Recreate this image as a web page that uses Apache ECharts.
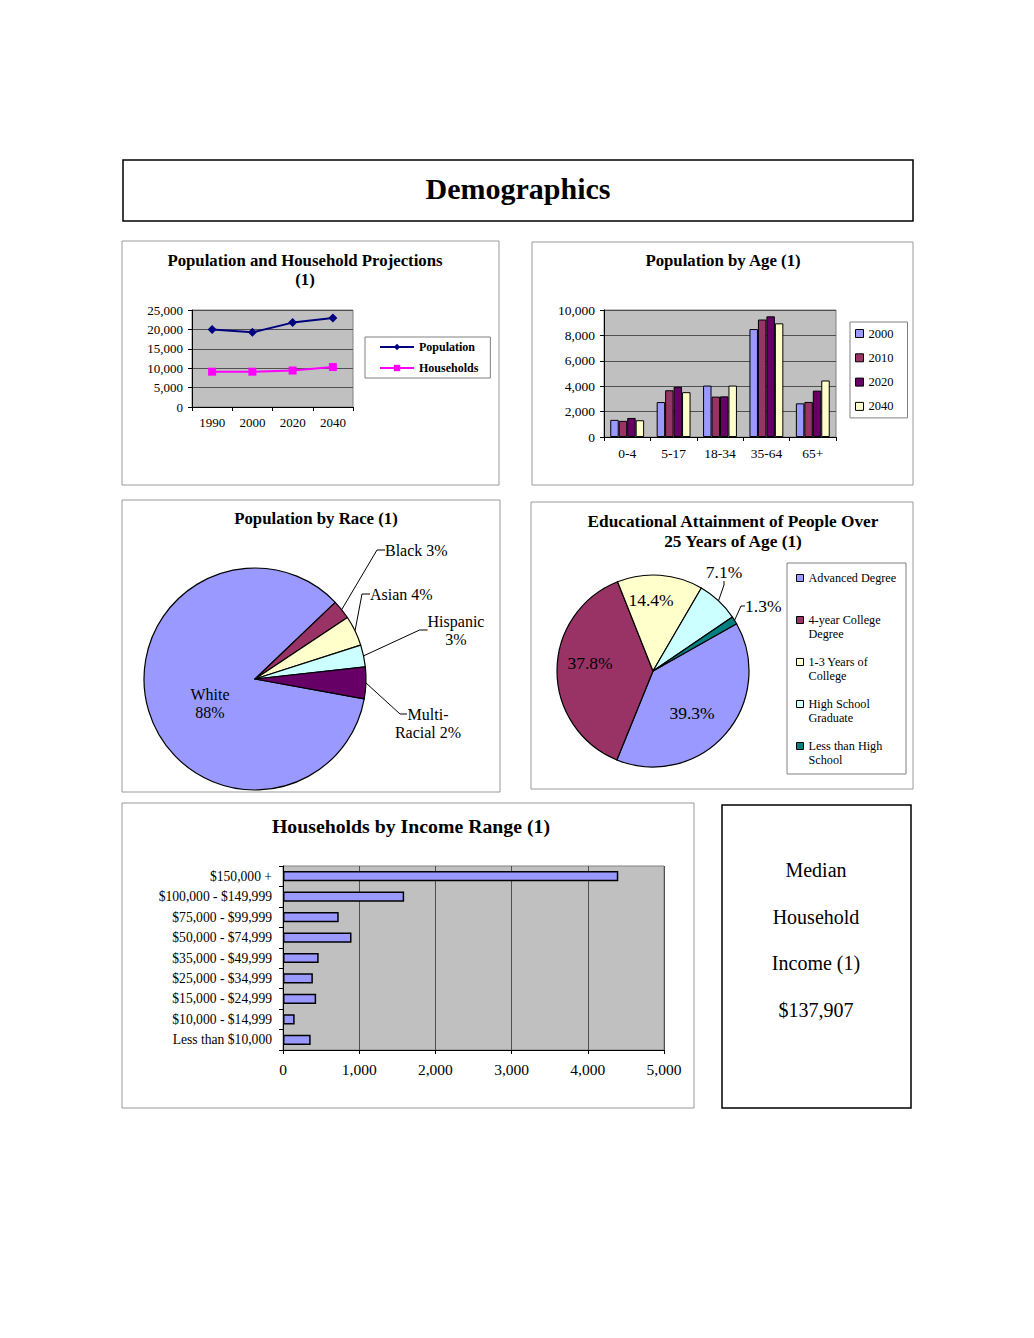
<!DOCTYPE html>
<html><head><meta charset="utf-8">
<script src="https://cdn.jsdelivr.net/npm/echarts@6/dist/echarts.min.js"></script>
<style>html,body{margin:0;padding:0;background:#fff}#c{width:1034px;height:1338px}</style>
</head><body><div id="c"></div>
<script>
// ---------------- DATA ----------------
const projYears = ['1990', '2000', '2020', '2040'];
const populationValues = [20000, 19250, 21750, 22950];
const householdValues = [9100, 9100, 9400, 10300];

const ageGroups = ['0-4', '5-17', '18-34', '35-64', '65+'];
const ageYears = ['2000', '2010', '2020', '2040'];
const age2000 = [1350, 2750, 4050, 8500, 2650];
const age2010 = [1270, 3680, 3180, 9250, 2760];
const age2020 = [1500, 3950, 3200, 9500, 3650];
const age2040 = [1320, 3530, 4050, 8950, 4450];

const raceNames = ['White', 'Black', 'Asian', 'Hispanic', 'Multi-Racial'];
const raceShares = [85, 2.8, 4.4, 3.2, 4.6];
const raceLabelText = ['White\n88%', 'Black 3%', 'Asian 4%', 'Hispanic\n3%', 'Multi-\nRacial 2%'];

const eduNames = ['Advanced Degree', '4-year College\nDegree', '1-3 Years of\nCollege', 'High School\nGraduate', 'Less than High\nSchool'];
const eduShares = [39.3, 37.8, 14.4, 7.1, 1.3];

const incomeRanges = ['Less than $10,000', '$10,000 - $14,999', '$15,000 - $24,999', '$25,000 - $34,999', '$35,000 - $49,999', '$50,000 - $74,999', '$75,000 - $99,999', '$100,000 - $149,999', '$150,000 +'];
const incomeHouseholds = [363, 153, 435, 392, 468, 899, 731, 1590, 4400];

const medianLines = ['Median', 'Household', 'Income (1)', '$137,907'];

// ---------------- STYLE / LAYOUT ----------------
const FONT = "'Liberation Serif','Times New Roman',serif";
const ageColors = ['#9999ff', '#993366', '#660066', '#ffffcc'];
const raceColors = ['#9999ff', '#993366', '#ffffcc', '#ccffff', '#660066'];
const eduColors = ['#9999ff', '#993366', '#ffffcc', '#ccffff', '#008080'];
const RACE_C = [255, 679], RACE_R = 111;
const EDU_C = [653, 671], EDU_R = 96, EDU_START = 29.5;
// label anchors: [x, y, align, optional leader-line end [x, y]]
const raceLabelAnchors = [[210, 703, 'center'], [385, 550, 'left'], [370, 594, 'left'], [456, 630, 'center'], [428, 723, 'center', [407, 714]]];
const eduLabelAnchors = [[692, 713, 'center'], [590, 663, 'center'], [651, 600, 'center'], [724, 572, 'center'], [745, 606, 'left']];

const fmt = v => Number(v).toLocaleString('en-US');
const txt = (size, extra) => Object.assign({color: '#000', fontFamily: FONT, fontSize: size}, extra || {});

const chart = echarts.init(document.getElementById('c'), null, {renderer: 'svg'});

const gridBase = {show: true, backgroundColor: '#c0c0c0', borderColor: '#808080', borderWidth: 1, outerBoundsMode: 'none', containLabel: false};
const axisLineBlack = {show: true, lineStyle: {color: '#000', width: 1}};
const tickBlack = {show: true, length: 4, lineStyle: {color: '#000'}};
const splitDark = {show: true, lineStyle: {color: '#505050', width: 1}};

const boxes = [
  [123, 160, 790, 61, '#000', 1.5],
  [122, 241, 377, 244, '#9a9a9a', 1],
  [532, 242, 381, 243, '#9a9a9a', 1],
  [122, 500, 378, 292, '#9a9a9a', 1],
  [531, 502, 382, 287, '#9a9a9a', 1],
  [122, 803, 572, 305, '#9a9a9a', 1],
  [722, 805, 189, 303, '#000', 1.5],
  [787, 563, 119, 211, '#808080', 1]
];
const texts = [
  ['Demographics', 518, 188, "bold 30px " + FONT],
  ['Population and Household Projections', 305, 260, "bold 16.8px " + FONT],
  ['(1)', 305, 279, "bold 16.8px " + FONT],
  ['Population by Age (1)', 723, 260, "bold 16.8px " + FONT],
  ['Population by Race (1)', 316, 518, "bold 16.8px " + FONT],
  ['Educational Attainment of People Over', 733, 521, "bold 17.3px " + FONT],
  ['25 Years of Age (1)', 733, 541, "bold 17.3px " + FONT],
  ['Households by Income Range (1)', 411, 826, "bold 19.8px " + FONT]
];
medianLines.forEach((t, i) => texts.push([t, 816, 870 + i * 46.7, "20px " + FONT]));

const graphics = [];
boxes.forEach(b => graphics.push({type: 'rect', silent: true, z: 0,
  shape: {x: b[0], y: b[1], width: b[2], height: b[3]},
  style: {fill: 'none', stroke: b[4], lineWidth: b[5]}}));
texts.forEach(t => graphics.push({type: 'text', silent: true, x: t[1], y: t[2],
  style: {text: t[0], font: t[3], fill: '#000', align: 'center', verticalAlign: 'middle', textAlign: 'center', textVerticalAlign: 'middle'}}));

const ageSeries = [age2000, age2010, age2020, age2040].map((arr, i) => ({
  type: 'bar', name: ageYears[i], xAxisIndex: 1, yAxisIndex: 1, data: arr,
  barGap: '0%', barCategoryGap: '27%',
  itemStyle: {color: ageColors[i], borderColor: '#000', borderWidth: 1}
}));

const anchorLayout = anchors => function (p) {
  const a = anchors[p.dataIndex];
  if (!a) return {};
  const out = {x: a[0], y: a[1], align: a[2], verticalAlign: 'middle'};
  if (a[3] && p.labelLinePoints && p.labelLinePoints[0]) {
    const s = p.labelLinePoints[0];
    out.labelLinePoints = [[s[0], s[1]], [a[3][0] - 7, a[3][1]], [a[3][0], a[3][1]]];
  }
  return out;
};

const option = {
  animation: false,
  backgroundColor: '#ffffff',
  textStyle: {fontFamily: FONT},
  graphic: graphics,
  grid: [
    Object.assign({left: 192, top: 310, width: 161, height: 97}, gridBase),
    Object.assign({left: 604, top: 310, width: 232, height: 127}, gridBase),
    Object.assign({left: 283, top: 866, width: 381, height: 184}, gridBase)
  ],
  xAxis: [
    {gridIndex: 0, type: 'category', data: projYears, boundaryGap: true,
      axisLine: axisLineBlack, axisTick: tickBlack, splitLine: {show: false},
      axisLabel: txt(13, {margin: 9, interval: 0})},
    {gridIndex: 1, type: 'category', data: ageGroups, boundaryGap: true,
      axisLine: axisLineBlack, axisTick: tickBlack, splitLine: {show: false},
      axisLabel: txt(13.5, {margin: 9, interval: 0})},
    {gridIndex: 2, type: 'value', min: 0, max: 5000, interval: 1000,
      axisLine: axisLineBlack, axisTick: tickBlack, splitLine: splitDark,
      axisLabel: txt(15.5, {margin: 11, formatter: fmt})}
  ],
  yAxis: [
    {gridIndex: 0, type: 'value', min: 0, max: 25000, interval: 5000,
      axisLine: axisLineBlack, axisTick: tickBlack, splitLine: splitDark,
      axisLabel: txt(13, {margin: 9, formatter: fmt})},
    {gridIndex: 1, type: 'value', min: 0, max: 10000, interval: 2000,
      axisLine: axisLineBlack, axisTick: tickBlack, splitLine: splitDark,
      axisLabel: txt(13.5, {margin: 9, formatter: fmt})},
    {gridIndex: 2, type: 'category', data: incomeRanges,
      axisLine: axisLineBlack, axisTick: tickBlack, splitLine: {show: false},
      axisLabel: txt(13.6, {margin: 11, interval: 0})}
  ],
  legend: [
    {data: ['Population', 'Households'], orient: 'vertical', left: 365, top: 337,
      borderColor: '#808080', borderWidth: 1, padding: [4, 12, 4, 14], itemGap: 9,
      itemWidth: 34, itemHeight: 8, textStyle: txt(12, {fontWeight: 'bold'})},
    {data: ageYears, orient: 'vertical', left: 850, top: 322, icon: 'rect',
      borderColor: '#808080', borderWidth: 1, padding: [5, 14, 5, 5], itemGap: 11.3,
      itemWidth: 8, itemHeight: 8, itemStyle: {borderColor: '#000', borderWidth: 1},
      textStyle: txt(12.5)},
    {data: eduNames, orient: 'vertical', left: 787, top: 557, icon: 'rect',
      padding: [0, 0, 0, 9], itemGap: 0, itemWidth: 7, itemHeight: 7,
      itemStyle: {borderColor: '#000', borderWidth: 1},
      formatter: n => '\n' + n + (n.indexOf('\n') < 0 ? '\n' : ''),
      textStyle: txt(12.2, {lineHeight: 14})}
  ],
  series: [
    {type: 'line', name: 'Population', xAxisIndex: 0, yAxisIndex: 0, data: populationValues,
      symbol: 'diamond', symbolSize: 9, color: '#000080',
      lineStyle: {color: '#000080', width: 2}, itemStyle: {color: '#000080'}},
    {type: 'line', name: 'Households', xAxisIndex: 0, yAxisIndex: 0, data: householdValues,
      symbol: 'rect', symbolSize: 8, color: '#ff00ff',
      lineStyle: {color: '#ff00ff', width: 2}, itemStyle: {color: '#ff00ff'}},
    ...ageSeries,
    {type: 'bar', name: 'Households by Income', xAxisIndex: 2, yAxisIndex: 2, data: incomeHouseholds,
      barCategoryGap: '50%', itemStyle: {color: '#9999ff', borderColor: '#000', borderWidth: 1.5}},
    {type: 'pie', name: 'Race', center: RACE_C, radius: RACE_R, startAngle: 349.7, clockwise: true,
      avoidLabelOverlap: false, silent: true,
      data: raceShares.map((v, i) => ({value: v, name: raceNames[i], itemStyle: {color: raceColors[i]},
        label: {position: i === 0 ? 'inside' : 'outside'}, labelLine: {show: i !== 0}})),
      itemStyle: {borderColor: '#000', borderWidth: 1.2},
      label: txt(16, {lineHeight: 18, formatter: p => raceLabelText[p.dataIndex]}),
      labelLine: {show: true, length: 10, length2: 8, lineStyle: {color: '#000', width: 1}},
      labelLayout: anchorLayout(raceLabelAnchors)},
    {type: 'pie', name: 'Education', center: EDU_C, radius: EDU_R, startAngle: EDU_START, clockwise: true,
      avoidLabelOverlap: false, silent: true,
      data: eduShares.map((v, i) => ({value: v, name: eduNames[i], itemStyle: {color: eduColors[i]},
        label: {position: i < 3 ? 'inside' : 'outside'}, labelLine: {show: i >= 3}})),
      itemStyle: {borderColor: '#000', borderWidth: 1.2},
      label: txt(17.5, {formatter: p => p.value.toFixed(1) + '%'}),
      labelLine: {show: true, length: 6, length2: 4, lineStyle: {color: '#000', width: 1}},
      labelLayout: anchorLayout(eduLabelAnchors)}
  ]
};
chart.setOption(option);
</script></body></html>
